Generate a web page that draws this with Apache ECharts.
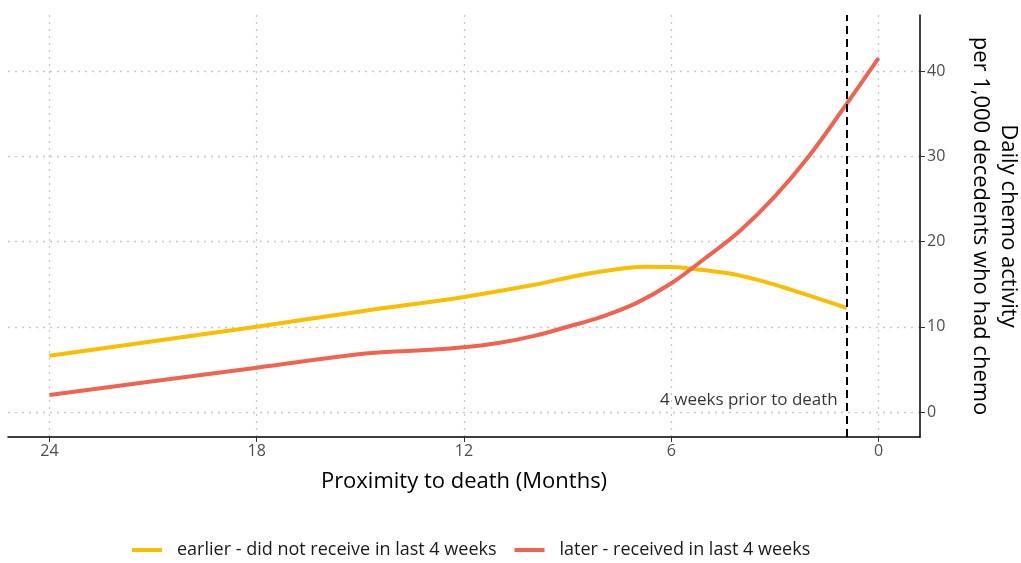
<!DOCTYPE html>
<html>
<head>
<meta charset="utf-8">
<script src="https://cdn.jsdelivr.net/npm/echarts@6/dist/echarts.min.js"></script>
<style>html,body{margin:0;padding:0;background:#fff}#c{width:1021px;height:563px}</style>
</head>
<body>
<div id="c"></div>
<script>
const xTicks = [0, 6, 12, 18, 24];
const yTicks = [0, 10, 20, 30, 40];
const earlierMonths = [24, 21, 18, 15, 12, 10, 9.3, 8.3, 7.3, 6.7, 6, 5.4, 4.4, 3.5, 2.5, 0.92];
const earlierValues = [6.6, 8.3, 10.0, 11.8, 13.5, 14.9, 15.5, 16.3, 16.9, 17.05, 17.0, 16.8, 16.3, 15.5, 14.3, 12.2];
const laterMonths = [24, 21, 18, 15, 14, 13, 12, 11, 10, 9, 8, 7, 6, 5, 4, 3, 2, 1, 0];
const laterValues = [2.0, 3.6, 5.2, 6.8, 7.1, 7.3, 7.6, 8.1, 8.9, 10.0, 11.2, 12.8, 15.1, 18.1, 21.3, 25.3, 30.1, 35.7, 41.5];
const cutoffMonths = 0.92;
const cutoffLabel = '4 weeks prior to death';
const seriesNames = ['earlier - did not receive in last 4 weeks', 'later - received in last 4 weeks'];
const colors = ['#F8BE00', '#EF6351'];

const zip = (xs, ys) => xs.map((x, i) => [x, ys[i]]);
const FONT = 'Open Sans';

const chart = echarts.init(document.getElementById('c'), null, { renderer: 'canvas' });
chart.setOption({
  animation: false,
  textStyle: { fontFamily: FONT },
  color: colors,
  grid: { left: 8, right: 101, top: 15, bottom: 126, containLabel: false, outerBoundsMode: 'none' },
  xAxis: {
    type: 'value', inverse: true, min: -1.2, max: 25.2,
    name: 'Proximity to death (Months)', nameLocation: 'middle', nameGap: 34,
    nameTextStyle: { fontSize: 22, color: '#000', fontFamily: FONT },
    axisLine: { show: true, onZero: false, lineStyle: { color: '#000', width: 1.5 } },
    axisTick: { show: true, customValues: xTicks, length: 5, lineStyle: { color: '#333' } },
    axisLabel: { customValues: xTicks, fontSize: 16, color: '#4d4d4d', margin: 6 },
    splitLine: { show: true, lineStyle: { type: [2, 5], color: '#c8c8c8', width: 1.3 } }
  },
  yAxis: {
    type: 'value', position: 'right', min: -2.93, max: 46.57,
    name: 'Daily chemo activity\nper 1,000 decedents who had chemo',
    nameLocation: 'middle', nameRotate: -90, nameGap: 46,
    nameTextStyle: { fontSize: 22, color: '#000', lineHeight: 28, fontFamily: FONT },
    axisLine: { show: true, onZero: false, lineStyle: { color: '#000', width: 1.5 } },
    axisTick: { show: true, customValues: yTicks, length: 5, lineStyle: { color: '#333' } },
    axisLabel: { customValues: yTicks, fontSize: 16, color: '#4d4d4d', margin: 7 },
    splitLine: { show: true, lineStyle: { type: [2, 5], color: '#c8c8c8', width: 1.3 } }
  },
  legend: {
    bottom: -1, left: 127, itemWidth: 30, itemHeight: 4, itemGap: 18,
    icon: 'rect',
    textStyle: { fontSize: 18, color: '#1a1a1a', fontFamily: FONT, padding: [0, 0, 0, 10] },
    data: seriesNames
  },
  series: [
    {
      name: seriesNames[0], type: 'line', smooth: 0.4, showSymbol: false,
      data: zip(earlierMonths, earlierValues),
      lineStyle: { width: 4, color: colors[0] }, itemStyle: { color: colors[0] },
      z: 3
    },
    {
      name: seriesNames[1], type: 'line', smooth: 0.4, showSymbol: false,
      data: zip(laterMonths, laterValues),
      lineStyle: { width: 4, color: colors[1] }, itemStyle: { color: colors[1] },
      z: 4,
      markLine: {
        silent: true, symbol: ['none', 'none'],
        lineStyle: { color: '#000', type: [8, 5], width: 2 },
        label: { show: false },
        data: [{ xAxis: cutoffMonths }]
      }
    },
    {
      type: 'scatter', symbolSize: 0, silent: true,
      data: [[cutoffMonths, 1.4]],
      label: { show: true, formatter: cutoffLabel, position: 'left', distance: 9, fontSize: 17, color: '#000', fontFamily: FONT },
      z: 5
    }
  ]
});
</script>
</body>
</html>
